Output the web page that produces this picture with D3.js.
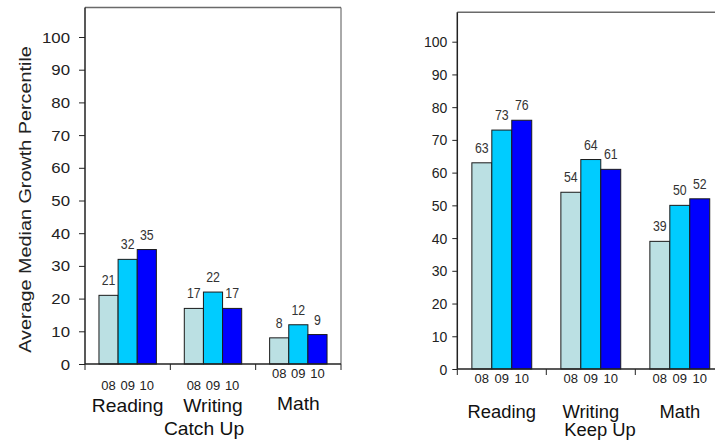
<!DOCTYPE html>
<html>
<head>
<meta charset="utf-8">
<script src="https://cdn.jsdelivr.net/npm/d3@7"></script>
<style>
  html, body { margin: 0; padding: 0; background: #fff; }
  svg { display: block; font-family: "Liberation Sans", Arial, sans-serif; }
</style>
</head>
<body>
<svg id="chart" width="715" height="441"></svg>
<script>
// Subjects and school years
const categories = ["Reading", "Writing", "Math"];
const years = ["08", "09", "10"];

// Catch Up: median growth percentile per subject, one array per year
const catchUp08 = [21, 17, 8];
const catchUp09 = [32, 22, 12];
const catchUp10 = [35, 17, 9];

// Keep Up: median growth percentile per subject, one array per year
const keepUp08 = [63, 54, 39];
const keepUp09 = [73, 64, 50];
const keepUp10 = [76, 61, 52];

const yTicks = [0, 10, 20, 30, 40, 50, 60, 70, 80, 90, 100];
const panelTitles = ["Catch Up", "Keep Up"];
const axisTitle = "Average Median Growth Percentile";

const yearColors = ["#BBE0E3", "#00CCFF", "#0000FF"];

const svg = d3.select("#chart");

const panels = [
  { title: panelTitles[0], series: [catchUp08, catchUp09, catchUp10],
    left: 85, right: 341, bottom: 364, top100: 37, frameRight: true,
    tickSize: 6, tickPad: 6.5, tickScale: 1.2, catScale: 1.1,
    subY: [390, 390, 378], catY: [411.5, 411.5, 410], titleX: 204, titleY: 435 },
  { title: panelTitles[1], series: [keepUp08, keepUp09, keepUp10],
    left: 457.3, right: 724.3, bottom: 369, top100: 41.7, frameRight: false,
    tickSize: 5, tickPad: 5, tickScale: 1.0, catScale: 1.05,
    subY: [383, 383, 383], catY: [418, 418, 418], titleX: 600, titleY: 436 }
];

panels.forEach(p => {
  const g = svg.append("g");

  const y = d3.scaleLinear().domain([0, 100]).range([p.bottom, p.top100]);
  const x0 = d3.scaleBand().domain(categories).range([p.left, p.right]).padding(0);
  const x1 = d3.scaleBand().domain(years).range([0, x0.bandwidth()])
    .paddingInner(0).paddingOuter(0.73);

  // plot frame above the axis
  const frameTop = y(109);
  g.append("line")
    .attr("x1", p.left).attr("x2", Math.min(p.right, 715))
    .attr("y1", frameTop).attr("y2", frameTop)
    .attr("stroke", "#6a6a6a").attr("stroke-width", 1.5);
  if (p.frameRight) {
    g.append("line")
      .attr("x1", p.right).attr("x2", p.right)
      .attr("y1", frameTop).attr("y2", p.bottom)
      .attr("stroke", "#555").attr("stroke-width", 1);
  }

  // bars
  const rows = [];
  categories.forEach((c, ci) => {
    years.forEach((yr, yi) => {
      rows.push({ cat: c, ci, year: yr, yi, value: p.series[yi][ci] });
    });
  });

  g.selectAll("rect.bar").data(rows).join("rect")
    .attr("class", "bar")
    .attr("x", d => x0(d.cat) + x1(d.year))
    .attr("y", d => y(d.value))
    .attr("width", x1.bandwidth())
    .attr("height", d => y(0) - y(d.value))
    .attr("fill", d => yearColors[d.yi])
    .attr("stroke", "#1a1a1a")
    .attr("stroke-width", 1);

  // value labels (narrow figures)
  g.selectAll("text.val").data(rows).join("text")
    .attr("class", "val")
    .attr("transform", d => {
      const cx = x0(d.cat) + x1(d.year) + x1.bandwidth() / 2;
      return `translate(${cx},${y(d.value) - 10}) scale(0.85,1)`;
    })
    .attr("text-anchor", "middle")
    .attr("font-size", 14.5)
    .attr("fill", "#333")
    .text(d => d.value);

  // y axis
  const yAxis = d3.axisLeft(y).tickValues(yTicks).tickSize(p.tickSize).tickPadding(p.tickPad)
    .tickFormat(d3.format("d"));
  const ya = g.append("g").attr("transform", `translate(${p.left},0)`).call(yAxis);
  ya.select(".domain").attr("d", `M0,${frameTop}V${p.bottom}`)
    .attr("stroke", "#222").attr("stroke-width", 1.5);
  ya.selectAll(".tick line").attr("stroke", "#222");
  ya.selectAll(".tick text")
    .attr("font-size", 14)
    .attr("font-family", "Liberation Sans, Arial, sans-serif")
    .attr("fill", "#222")
    .attr("dy", "0.36em")
    .attr("transform", `scale(${p.tickScale},1)`);

  // x baseline with group separators
  g.append("line")
    .attr("x1", p.left).attr("x2", p.right)
    .attr("y1", y(0)).attr("y2", y(0))
    .attr("stroke", "#222").attr("stroke-width", 1.5);
  const seps = categories.map(c => x0(c)).concat([p.right]);
  g.selectAll("line.sep").data(seps).join("line")
    .attr("class", "sep")
    .attr("x1", d => d).attr("x2", d => d)
    .attr("y1", y(0)).attr("y2", y(0) + 6)
    .attr("stroke", "#222").attr("stroke-width", 1);

  // year labels under each bar
  g.selectAll("text.yr").data(rows).join("text")
    .attr("class", "yr")
    .attr("x", d => x0(d.cat) + x1(d.year) + x1.bandwidth() / 2)
    .attr("y", d => p.subY[d.ci])
    .attr("text-anchor", "middle")
    .attr("font-size", 13)
    .attr("fill", "#222")
    .text(d => d.year);

  // subject labels
  g.selectAll("text.cat").data(categories).join("text")
    .attr("class", "cat")
    .attr("transform", (c, i) =>
      `translate(${x0(c) + x0.bandwidth() / 2},${p.catY[i]}) scale(${p.catScale},1)`)
    .attr("text-anchor", "middle")
    .attr("font-size", 17.5)
    .attr("fill", "#111")
    .text(c => c);

  // panel title
  g.append("text")
    .attr("transform", `translate(${p.titleX},${p.titleY}) scale(${p.catScale},1)`)
    .attr("text-anchor", "middle")
    .attr("font-size", 17.5)
    .attr("fill", "#111")
    .text(p.title);
});

// shared y axis title on the left panel
svg.append("text")
  .attr("transform", "translate(31,199.5) rotate(-90) scale(1.2,1)")
  .attr("text-anchor", "middle")
  .attr("font-size", 16.5)
  .attr("fill", "#222")
  .text(axisTitle);
</script>
</body>
</html>
